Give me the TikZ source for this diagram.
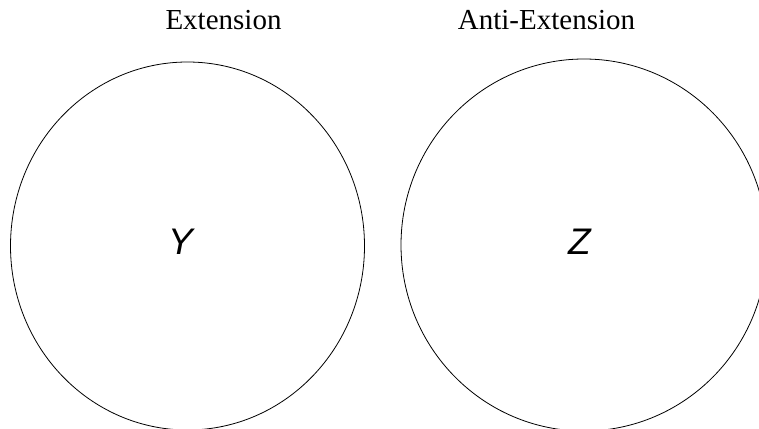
\documentclass[tikz,border=0pt]{standalone}
\usepackage{fontspec}
\setmainfont{Liberation Serif}
\newfontfamily\lsans{Liberation Sans}
\begin{document}
\begin{tikzpicture}[x=1pt,y=1pt,
  setline/.style={draw=black,line width=0.8pt},
  titletext/.style={font=\fontsize{29}{32}\selectfont,anchor=base,inner sep=0pt},
  vartext/.style={font=\lsans\itshape\fontsize{37}{40}\selectfont,anchor=base,inner sep=0pt}]
\useasboundingbox (0,0) rectangle (759,428);
\clip (0,0) rectangle (759,428);
\fill[white] (0,0) rectangle (759,428);
\node[titletext] (t1) at (223.5,398) {Extension};
\node[titletext] (t2) at (546.5,398) {Anti-Extension};
\draw[setline] (187.5,182) ellipse [x radius=177, y radius=184];
\draw[setline] (584,183) ellipse [x radius=183, y radius=186];
\node[vartext] (y) at (181,173) {Y};
\node[vartext] (z) at (580,173) {Z};
\end{tikzpicture}
\end{document}
